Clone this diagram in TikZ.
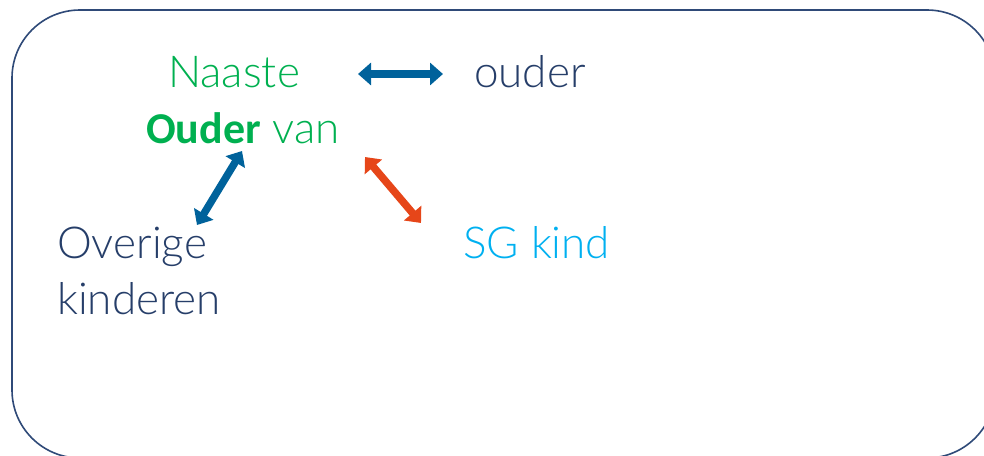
\documentclass[tikz,border=0pt]{standalone}
\usepackage{fontspec}
\setmainfont{Lato Light}[BoldFont={Carlito Bold}]
\usetikzlibrary{arrows.meta}
\definecolor{frameblue}{RGB}{47,74,120}
\definecolor{navytext}{RGB}{38,62,105}
\definecolor{greentext}{RGB}{0,176,80}
\definecolor{lightblue}{RGB}{0,176,240}
\definecolor{arrowblue}{RGB}{0,98,155}
\definecolor{arrowred}{RGB}{230,70,25}
\tikzset{
  lbl/.style={inner sep=0pt, anchor=base west, font=\fontsize{44}{56}\selectfont},
  dblarrow/.style={line width=7.5pt,
    {Triangle[width=22pt,length=13pt]}-{Triangle[width=22pt,length=13pt]}},
}
\begin{document}
\begin{tikzpicture}[x=1pt,y=-1pt]
\useasboundingbox (0,0) rectangle (984,455);
\clip (0,0) rectangle (984,455);
\draw[frameblue, line width=1.6pt, rounded corners=68pt] (12,10) rectangle (995,458);

\node[lbl, text=greentext] (naaste) at (168,87) {Naaste};
\node[lbl, text=navytext] (ouder) at (474,87) {ouder};
\node[lbl, text=greentext] (oudervan) at (146,143) {\textbf{Ouder} van};
\node[lbl, text=navytext, align=left] (overige) at (57,314) {Overige\\kinderen};
\node[lbl, text=lightblue] (sgkind) at (463,258) {SG kind};

\coordinate (h1) at (358,74);
\coordinate (h2) at (443,74);
\coordinate (b1) at (242,151);
\coordinate (b2) at (197,225);
\coordinate (r1) at (365,157);
\coordinate (r2) at (421,223);

\draw[dblarrow, arrowblue] (h1) -- (h2);
\draw[dblarrow, arrowblue] (b1) -- (b2);
\draw[dblarrow, arrowred] (r1) -- (r2);
\end{tikzpicture}
\end{document}
